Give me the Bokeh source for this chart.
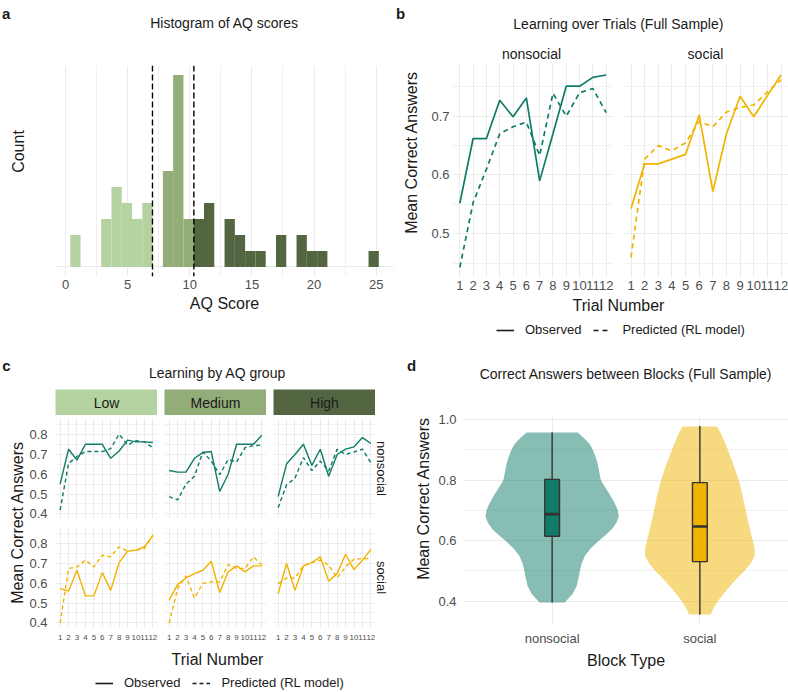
import math
from bokeh.plotting import figure
from bokeh.layouts import row, column
from bokeh.models import (Range1d, FixedTicker, LinearAxis, Grid, Label, Span, Spacer,
                          PrintfTickFormatter, Legend, LegendItem)
from bokeh.embed import file_html
from bokeh.resources import INLINE

# ---------------------------------------------------------------- data
# AQ histogram: 30 equal-width bins
aq_first_bin_center = 0.80
aq_bin_width = 0.8276
aq_counts = [2, 0, 0, 3, 5, 4, 3, 4, 0, 6, 12, 3, 3, 4, 0, 3, 2, 1, 1, 0,
             2, 0, 2, 1, 1, 0, 0, 0, 0, 1]
aq_group_cuts = [7.0, 10.33]
aq_groups = ["Low", "Medium", "High"]
aq_axis_ticks = [0, 5, 10, 15, 20, 25]

trials = list(range(1, 13))

# full sample, mean correct answers per trial
full_nonsocial_obs = [0.552, 0.662, 0.662, 0.727, 0.699, 0.731, 0.590, 0.670, 0.751, 0.751, 0.766, 0.770]
full_nonsocial_pred = [0.443, 0.553, 0.610, 0.670, 0.682, 0.690, 0.633, 0.739, 0.700, 0.740, 0.747, 0.706]
full_social_obs = [0.543, 0.619, 0.619, 0.627, 0.635, 0.702, 0.572, 0.670, 0.734, 0.699, 0.735, 0.770]
full_social_pred = [0.460, 0.627, 0.650, 0.641, 0.655, 0.691, 0.682, 0.707, 0.715, 0.719, 0.741, 0.762]

# by AQ group
low_nonsocial_obs = [0.550, 0.727, 0.672, 0.752, 0.752, 0.752, 0.681, 0.718, 0.773, 0.764, 0.764, 0.761]
low_nonsocial_pred = [0.419, 0.655, 0.690, 0.715, 0.715, 0.715, 0.730, 0.803, 0.748, 0.770, 0.764, 0.735]
medium_nonsocial_obs = [0.619, 0.611, 0.611, 0.681, 0.710, 0.715, 0.513, 0.600, 0.752, 0.752, 0.752, 0.798]
medium_nonsocial_pred = [0.487, 0.470, 0.550, 0.590, 0.713, 0.667, 0.598, 0.675, 0.662, 0.735, 0.745, 0.748]
high_nonsocial_obs = [0.487, 0.653, 0.700, 0.752, 0.645, 0.727, 0.590, 0.700, 0.727, 0.739, 0.786, 0.756]
high_nonsocial_pred = [0.431, 0.547, 0.580, 0.684, 0.619, 0.667, 0.616, 0.727, 0.700, 0.713, 0.727, 0.658]
low_social_obs = [0.573, 0.561, 0.666, 0.536, 0.536, 0.654, 0.564, 0.705, 0.763, 0.768, 0.785, 0.840]
low_social_pred = [0.398, 0.675, 0.683, 0.717, 0.683, 0.742, 0.734, 0.785, 0.763, 0.768, 0.776, 0.845]
medium_social_obs = [0.515, 0.593, 0.627, 0.649, 0.666, 0.712, 0.553, 0.658, 0.688, 0.658, 0.688, 0.688]
medium_social_pred = [0.398, 0.573, 0.637, 0.525, 0.600, 0.607, 0.607, 0.695, 0.675, 0.675, 0.734, 0.692]
high_social_obs = [0.547, 0.700, 0.564, 0.688, 0.705, 0.734, 0.610, 0.649, 0.747, 0.669, 0.717, 0.771]
high_social_pred = [0.598, 0.627, 0.627, 0.688, 0.705, 0.717, 0.692, 0.627, 0.683, 0.722, 0.725, 0.725]

# block comparison: violin outlines (half width in category units) and box statistics
block_types = ["nonsocial", "social"]
nonsocial_violin_y = [0.958, 0.94, 0.92, 0.90, 0.875, 0.85, 0.825, 0.80, 0.775, 0.75, 0.725, 0.70,
                      0.68, 0.66, 0.64, 0.62, 0.60, 0.575, 0.55, 0.525, 0.50, 0.475, 0.45, 0.425, 0.396]
nonsocial_violin_halfwidth = [0.173, 0.215, 0.254, 0.276, 0.296, 0.310, 0.320, 0.330, 0.361, 0.393,
                              0.423, 0.445, 0.451, 0.436, 0.407, 0.364, 0.316, 0.262, 0.222, 0.200,
                              0.188, 0.178, 0.166, 0.139, 0.085]
social_violin_y = [0.978, 0.95, 0.90, 0.85, 0.80, 0.75, 0.70, 0.65, 0.60, 0.575, 0.55, 0.525,
                   0.50, 0.475, 0.45, 0.425, 0.40, 0.375, 0.356]
social_violin_halfwidth = [0.117, 0.147, 0.190, 0.228, 0.263, 0.289, 0.310, 0.333, 0.358, 0.371,
                           0.371, 0.344, 0.301, 0.251, 0.205, 0.161, 0.121, 0.090, 0.073]
box_low = [0.396, 0.356]
box_q1 = [0.615, 0.531]
box_median = [0.688, 0.647]
box_q3 = [0.803, 0.792]
box_high = [0.958, 0.979]

# ---------------------------------------------------------------- style
FONT = "Liberation Sans"
TEAL = "#0F7B68"
GOLD = "#F0B400"
GROUP_COLORS = {"Low": "#B5D3A0", "Medium": "#93AD78", "High": "#536641"}
GRID = "#EBEBEB"
INK = "#1A1A1A"
TICK_INK = "#4D4D4D"
NAN = float("nan")

GEOM = {}


def make_fig(ox, oy, w, h, left=0, right=0, top=0, bottom=0, xr=(0, 1), yr=(0, 1), fill="white"):
    """Figure whose canvas sits at page pixel (ox, oy)."""
    p = figure(width=w, height=h, x_range=Range1d(*xr), y_range=Range1d(*yr),
               x_axis_type=None, y_axis_type=None, toolbar_location=None, tools="",
               output_backend="svg", min_border=0, min_border_left=left,
               min_border_right=right, min_border_top=top, min_border_bottom=bottom)
    p.outline_line_color = None
    p.background_fill_color = fill
    p.border_fill_color = "white"
    GEOM[id(p)] = (ox, oy, left, oy + h - bottom)
    return p


def text(p, x, y, s, size, color=INK, bold=False, align="center", baseline="middle", angle=0.0):
    """Place a label at page pixel (x, y); it must fall inside the figure's frame."""
    ox, oy, left, frame_bottom = GEOM[id(p)]
    p.add_layout(Label(x=x - ox - left, y=frame_bottom - y, x_units="screen", y_units="screen",
                       text=s, text_font=FONT, text_font_size=f"{size}px", text_color=color,
                       text_font_style="bold" if bold else "normal", text_align=align,
                       text_baseline=baseline, angle=angle))


def add_grid(p, dim, ticks, minor=None):
    p.add_layout(Grid(dimension=dim, ticker=FixedTicker(ticks=ticks, minor_ticks=minor or []),
                      grid_line_color=GRID, grid_line_width=1.1,
                      minor_grid_line_color=GRID if minor else None, minor_grid_line_width=0.7))


def add_axis(p, side, ticks, size=13, standoff=3, fmt=None, overrides=None):
    ax = LinearAxis(ticker=FixedTicker(ticks=ticks))
    if fmt:
        ax.formatter = PrintfTickFormatter(format=fmt)
    if overrides:
        ax.major_label_overrides = overrides
    ax.axis_line_color = None
    ax.major_tick_line_color = None
    ax.minor_tick_line_color = None
    ax.major_tick_out = 0
    ax.major_tick_in = 0
    ax.minor_tick_out = 0
    ax.minor_tick_in = 0
    ax.major_label_standoff = standoff
    ax.major_label_text_font = FONT
    ax.major_label_text_font_size = f"{size}px"
    ax.major_label_text_color = TICK_INK
    p.add_layout(ax, side)


def add_legend(p, x, y, dash):
    # key-only renderers (no visible data)
    r1 = p.line(x=[NAN], y=[NAN], line_color=INK, line_width=1.6)
    r2 = p.line(x=[NAN], y=[NAN], line_color=INK, line_width=1.6, line_dash=dash)
    p.add_layout(Legend(items=[LegendItem(label="Observed", renderers=[r1]),
                               LegendItem(label="Predicted (RL model)", renderers=[r2])],
                        orientation="horizontal", location=(x, y), border_line_color=None,
                        background_fill_alpha=0, glyph_width=18, glyph_height=14,
                        label_height=14, label_standoff=11, spacing=12, padding=0, margin=0,
                        label_text_font=FONT, label_text_font_size="13px", label_text_color=INK))


# ---------------------------------------------------------------- a: histogram
a_head = make_fig(0, 0, 394, 45)
text(a_head, 1.5, 13.3, "a", 15, bold=True, align="left", baseline="alphabetic")
text(a_head, 224, 22, "Histogram of AQ scores", 14)

a_ylab = make_fig(0, 45, 30, 250)
text(a_ylab, 17.5, 170, "Count", 16, angle=math.pi / 2)

pa = make_fig(30, 45, 364, 250, left=24, top=20, bottom=19, xr=(-0.885, 26.475), yr=(-0.6, 12.6))
add_grid(pa, 0, aq_axis_ticks, [2.5, 7.5, 12.5, 17.5, 22.5])
add_grid(pa, 1, [0])
add_axis(pa, "below", aq_axis_ticks, standoff=3)
for grp in aq_groups:
    lefts, rights, tops = [], [], []
    for k, c in enumerate(aq_counts):
        center = aq_first_bin_center + k * aq_bin_width
        g = "Low" if center < aq_group_cuts[0] else ("Medium" if center < aq_group_cuts[1] else "High")
        if g == grp and c > 0:
            lefts.append(center - aq_bin_width / 2)
            rights.append(center + aq_bin_width / 2)
            tops.append(c)
    pa.quad(left=lefts, right=rights, bottom=0, top=tops, fill_color=GROUP_COLORS[grp], line_color=None)
for cut in aq_group_cuts:
    pa.add_layout(Span(location=cut, dimension="height", line_color="black",
                       line_width=1.4, line_dash="6 3"))

a_foot = make_fig(0, 295, 394, 45)
text(a_foot, 224, 303, "AQ Score", 16)

left_top = column(a_head, row(a_ylab, pa), a_foot)

# ---------------------------------------------------------------- b: learning over trials
b_head = make_fig(394, 0, 394, 63)
text(b_head, 395.5, 13.3, "b", 15, bold=True, align="left", baseline="alphabetic")
text(b_head, 618, 23, "Learning over Trials (Full Sample)", 14)
text(b_head, 531, 53, "nonsocial", 14)
text(b_head, 705, 53, "social", 14)

b_ylab = make_fig(394, 63, 34, 232)
text(b_ylab, 411, 170, "Mean Correct Answers", 16, angle=math.pi / 2)

b_yr = (0.4257, 0.7896)
b_panels = []
for ox, w, left, obs, pred, col in [
        (428, 185, 21, full_nonsocial_obs, full_nonsocial_pred, TEAL),
        (613, 175, 10, full_social_obs, full_social_pred, GOLD)]:
    p = make_fig(ox, 63, w, 232, left=left, top=0, bottom=18, xr=(0.45, 12.55), yr=b_yr)
    add_grid(p, 0, trials)
    add_grid(p, 1, [0.5, 0.6, 0.7], [0.45, 0.55, 0.65, 0.75])
    add_axis(p, "below", trials, standoff=3)
    p.line(trials, obs, line_color=col, line_width=1.7)
    p.line(trials, pred, line_color=col, line_width=1.7, line_dash="5 4")
    b_panels.append(p)
add_axis(b_panels[0], "left", [0.5, 0.6, 0.7], standoff=3, fmt="%.1f")

b_foot = make_fig(394, 295, 394, 45)
text(b_foot, 618, 305, "Trial Number", 16)
add_legend(b_foot, 102, 3, "5 4")

right_top = column(b_head, row(b_ylab, *b_panels), b_foot)

# ---------------------------------------------------------------- c: learning by AQ group
c_head = make_fig(0, 340, 394, 49)
text(c_head, 1.7, 365, "c", 15, bold=True, align="left", baseline="alphabetic")
text(c_head, 217, 372.5, "Learning by AQ group", 14)

strip_row = [Spacer(width=55, height=26)]
for grp, sx, gap in [("Low", 55, 7), ("Medium", 164, 7), ("High", 273, 19)]:
    s = make_fig(sx, 389, 102, 26, fill=GROUP_COLORS[grp])
    text(s, sx + 51, 402.5, grp, 14)
    strip_row += [s, Spacer(width=gap, height=26)]

c_ylab = make_fig(0, 415, 26, 232)
text(c_ylab, 17, 522, "Mean Correct Answers", 16, angle=math.pi / 2)

c_series = {
    "Low": (low_nonsocial_obs, low_nonsocial_pred, low_social_obs, low_social_pred),
    "Medium": (medium_nonsocial_obs, medium_nonsocial_pred, medium_social_obs, medium_social_pred),
    "High": (high_nonsocial_obs, high_nonsocial_pred, high_social_obs, high_social_pred),
}
c_yr = (0.376, 0.8825)
c_yticks = [0.4, 0.5, 0.6, 0.7, 0.8]
c_yminor = [0.45, 0.55, 0.65, 0.75, 0.85]
c_columns = []
for grp, ox, w, left in [("Low", 26, 131, 29), ("Medium", 157, 109, 7), ("High", 266, 109, 7)]:
    ns_obs, ns_pred, so_obs, so_pred = c_series[grp]
    top_p = make_fig(ox, 415, w, 107, left=left, top=3, bottom=4, xr=(0.45, 12.55), yr=c_yr)
    bot_p = make_fig(ox, 522, w, 125, left=left, top=5, bottom=20, xr=(0.45, 12.55), yr=c_yr)
    for p, obs, pred, col in [(top_p, ns_obs, ns_pred, TEAL), (bot_p, so_obs, so_pred, GOLD)]:
        add_grid(p, 0, trials)
        add_grid(p, 1, c_yticks, c_yminor)
        p.line(trials, obs, line_color=col, line_width=1.4)
        p.line(trials, pred, line_color=col, line_width=1.4, line_dash="4 3")
        if grp == "Low":
            add_axis(p, "left", c_yticks, standoff=8, fmt="%.1f")
    add_axis(bot_p, "below", trials, size=8, standoff=7)
    c_columns.append(column(top_p, bot_p))

# row strip labels on the right edge
c_rlab_top = make_fig(375, 415, 19, 107)
text(c_rlab_top, 380.5, 468, "nonsocial", 13, angle=-math.pi / 2, baseline="alphabetic")
c_rlab_bot = make_fig(375, 522, 19, 125)
text(c_rlab_bot, 380.5, 577, "social", 13, angle=-math.pi / 2, baseline="alphabetic")

c_foot = make_fig(0, 647, 394, 45)
text(c_foot, 217, 659, "Trial Number", 16)
add_legend(c_foot, 95, 2, "4 3")

left_bottom = column(c_head, row(*strip_row),
                     row(c_ylab, *c_columns, column(c_rlab_top, c_rlab_bot)), c_foot)

# ---------------------------------------------------------------- d: correct answers between blocks
d_head = make_fig(394, 340, 394, 66)
text(d_head, 406.5, 365, "d", 15, bold=True, align="left", baseline="alphabetic")
text(d_head, 625.5, 373, "Correct Answers between Blocks (Full Sample)", 14)

d_ylab = make_fig(394, 406, 38, 242)
text(d_ylab, 423, 522, "Mean Correct Answers", 16, angle=math.pi / 2)

pd_ = make_fig(432, 406, 356, 242, left=31, top=10, bottom=20, xr=(0.4, 2.6), yr=(0.3231, 1.0107))
add_grid(pd_, 0, [1, 2])
add_grid(pd_, 1, [0.4, 0.6, 0.8, 1.0], [0.5, 0.7, 0.9])
add_axis(pd_, "left", [0.4, 0.6, 0.8, 1.0], standoff=7, fmt="%.1f")
add_axis(pd_, "below", [1, 2], standoff=6, overrides={1: block_types[0], 2: block_types[1]})
for pos, ys, hw, col in [(1, nonsocial_violin_y, nonsocial_violin_halfwidth, TEAL),
                         (2, social_violin_y, social_violin_halfwidth, GOLD)]:
    xs = [pos + w for w in hw] + [pos - w for w in reversed(hw)]
    yy = list(ys) + list(reversed(ys))
    pd_.patch(xs, yy, fill_color=col, fill_alpha=0.5, line_color=None)
positions = [1, 2]
pd_.segment(x0=positions, y0=box_low, x1=positions, y1=box_high, line_color="#333333", line_width=1.4)
pd_.vbar(x=positions, width=0.1, bottom=box_q1, top=box_q3, fill_color=[TEAL, GOLD],
         line_color="#333333", line_width=1.4)
pd_.segment(x0=[x - 0.05 for x in positions], y0=box_median, x1=[x + 0.05 for x in positions],
            y1=box_median, line_color="#333333", line_width=2.6)

d_foot = make_fig(394, 648, 394, 44)
text(d_foot, 625.7, 659.5, "Block Type", 16)

right_bottom = column(d_head, row(d_ylab, pd_), d_foot)

# ---------------------------------------------------------------- page
page = column(row(left_top, right_top), row(left_bottom, right_bottom))

with open("out.html", "w") as f:
    f.write(file_html(page, INLINE))
